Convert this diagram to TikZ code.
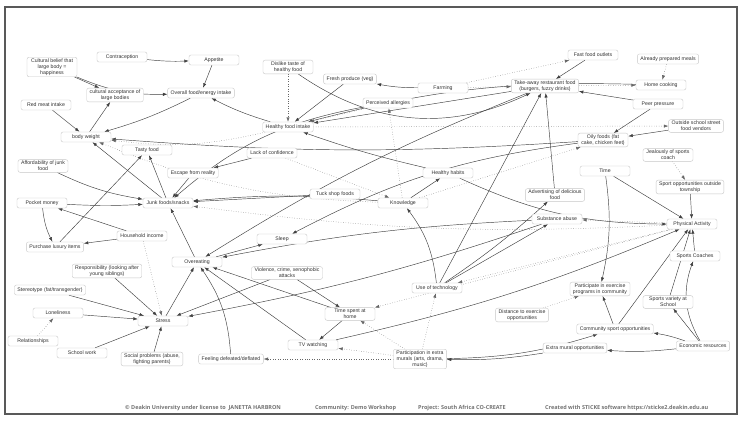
\documentclass[tikz,border=0pt]{standalone}
\usepackage{fontspec}
\setmainfont{Liberation Sans}
\newfontfamily\footfont{Open Sans}
\usetikzlibrary{arrows.meta,backgrounds}
\begin{document}
\begin{tikzpicture}[x=1pt,y=-1pt,
 box/.style={draw=black!22, rounded corners=2pt, fill=white, font=\fontsize{5.2}{5.8}\selectfont, text=black!80, align=center, minimum width=50pt, minimum height=10pt, inner xsep=3pt, inner ysep=1.5pt},
 arr/.style={draw=black!75, line width=0.45pt, -{Latex[length=4.5pt,width=3.2pt]}},
 dot/.style={arr, dotted, draw=black!60},
 foot/.style={font=\footfont\bfseries\fontsize{5.5}{6}\selectfont, text=black!55, anchor=west, inner sep=0pt}]
\useasboundingbox (0,0) rectangle (743,422);
\draw[black!65, line width=1.2pt] (5,7) rectangle (737,414);

\node[box] (contra) at (122,57) {Contraception};
\node[box] (appetite) at (214,60) {Appetite};
\node[box] (cultbelief) at (52,67) {Cultural belief that\\large body =\\happiness};
\node[box] (cultaccept) at (115,95) {cultural acceptance of\\large bodies};
\node[box] (overall) at (201,93) {Overall food/energy intake};
\node[box] (redmeat) at (46,105) {Red meat intake};
\node[box] (bodyweight) at (86,137) {body weight};
\node[box] (tasty) at (147,150) {Tasty food};
\node[box] (afford) at (43,166) {Affordability of junk\\food};
\node[box] (escape) at (193,173) {Escape from reality};
\node[box] (pocket) at (42,203) {Pocket money};
\node[box] (junk) at (168,203) {Junk foods/snacks};
\node[box] (household) at (142,236) {Household income};
\node[box] (purchaselux) at (55,247) {Purchase luxury items};
\node[box] (overeating) at (197,262) {Overeating};
\node[box] (responsibility) at (107,271) {Responsibility (looking after\\young siblings)};
\node[box] (stereotype) at (50,290) {Stereotype (fat/transgender)};
\node[box] (loneliness) at (58,313) {Loneliness};
\node[box] (relationships) at (33,341) {Relationships};
\node[box] (stress) at (163,321) {Stress};
\node[box] (schoolwork) at (82,353) {School work};
\node[box] (social) at (152,359) {Social problems (abuse,\\fighting parents)};
\node[box] (feeling) at (231,359) {Feeling defeated/deflated};
\node[box] (useoftech) at (437,288) {Use of technology};
\node[box] (timehome) at (350,314) {Time spent at\\home};
\node[box] (tvwatch) at (313,345) {TV watching};
\node[box] (participation) at (420,359) {Participation in extra\\murals (arts, drama,\\music)};
\node[box] (participate) at (600,289) {Participate in exercise\\programs in community};
\node[box] (sportsvariety) at (668,302) {Sports variety at\\School};
\node[box] (distance) at (522,315) {Distance to exercise\\opportunities};
\node[box] (commsport) at (615,329) {Community sport opportunities};
\node[box] (econ) at (703,346) {Economic resources};
\node[box] (extramural) at (575,348) {Extra mural opportunities};
\node[box] (time) at (605,171) {Time};
\node[box] (sportout) at (690,187) {Sport opportunities outside\\township};
\node[box] (advert) at (555,195) {Advertising of delicious\\food};
\node[box] (substance) at (557,219) {Substance abuse};
\node[box] (physact) at (692,224) {Physical Activity};
\node[box] (sportscoach) at (695,256) {Sports Coaches};
\node[box] (fastfood) at (593,55) {Fast food outlets};
\node[box] (already) at (668,59) {Already prepared meals};
\node[box] (takeaway) at (545,86) {Take-away restaurant food\\(burgers, fuzzy drinks)};
\node[box] (homecook) at (661,85) {Home cooking};
\node[box] (peer) at (658,104) {Peer pressure};
\node[box] (vendors) at (696,126) {Outside school street\\food vendors};
\node[box] (oily) at (603,140) {Oily foods (fat\\cake, chicken feet)};
\node[box] (jealous) at (668,155) {Jealously of sports\\coach};
\node[box] (dislike) at (288,67) {Dislike taste of\\healthy food};
\node[box] (fresh) at (350,79) {Fresh produce (veg)};
\node[box] (farming) at (443,88) {Farming};
\node[box] (perceived) at (388,103) {Perceived allergies};
\node[box] (healthyintake) at (288,127) {Healthy food intake};
\node[box] (lackconf) at (272,153) {Lack of confidence};
\node[box] (healthyhabits) at (448,173) {Healthy habits};
\node[box] (tuckshop) at (335,194) {Tuck shop foods};
\node[box] (knowledge) at (403,203) {Knowledge};
\node[box] (sleep) at (282,239) {Sleep};
\node[box] (violence) at (287,273) {Violence, crime, xenophobic\\attacks};

\begin{scope}[on background layer]
\fill[white] (0,0) rectangle (743,422);
\draw[arr] (contra) to[bend right=4] (appetite);
\draw[arr] (appetite) -- (overall);
\draw[arr] (cultbelief) -- (cultaccept);
\draw[arr] (cultbelief) to[bend right=12] (overall);
\draw[arr] (redmeat) -- (bodyweight);
\draw[arr] (bodyweight) -- (cultaccept);
\draw[arr] (overall) to[bend left=5] (bodyweight);
\draw[arr] (healthyintake) to[bend left=5] (overall);
\draw[arr] (junk) -- (bodyweight);
\draw[arr] (oily) to[bend left=4] (bodyweight);
\draw[arr] (dislike) to[bend right=30] (takeaway);
\draw[arr] (fresh) -- (healthyintake);
\draw[arr] (farming) to[bend left=5] (fresh);
\draw[arr] (fastfood) -- (takeaway);
\draw[arr] (peer) -- (takeaway);
\draw[arr] (peer) -- (oily);
\draw[arr] (vendors) -- (oily);
\draw[arr] (homecook) to[bend right=8] (healthyintake);
\draw[arr] (takeaway) -- (healthyintake);
\draw[arr] (healthyhabits) to[bend left=3] (healthyintake);
\draw[arr] (knowledge) -- (healthyhabits);
\draw[arr] (useoftech) to[bend right=15] (knowledge);
\draw[arr] (useoftech) -- (takeaway);
\draw[arr] (useoftech) to[bend right=4] (advert);
\draw[arr] (advert) -- (takeaway);
\draw[arr] (healthyhabits) to[bend right=12] (physact);
\draw[arr] (time) -- (physact);
\draw[arr] (time) to[bend left=10] (participate);
\draw[arr] (sportout) -- (physact);
\draw[arr] (sportscoach) -- (physact);
\draw[arr] (sportsvariety) -- (physact);
\draw[arr] (commsport) -- (physact);
\draw[arr] (commsport) -- (participate);
\draw[arr] (econ) to[bend right=5] (commsport);
\draw[arr] (econ) to[bend left=5] (extramural);
\draw[arr] (econ) -- (sportsvariety);
\draw[arr] (econ) to[bend left=25] (sportscoach);
\draw[arr] (extramural) to[bend left=5] (participation);
\draw[arr] (participation) to[bend right=8] (commsport);
\draw[arr] (tvwatch) to[bend right=5] (physact);
\draw[arr] (timehome) -- (tvwatch);
\draw[arr] (violence) -- (timehome);
\draw[arr] (violence) -- (stress);
\draw[arr] (timehome) -- (overeating);
\draw[arr] (tvwatch) -- (overeating);
\draw[arr] (feeling) to[bend right=15] (overeating);
\draw[arr] (stress) -- (overeating);
\draw[arr] (substance) to[bend right=4] (overeating);
\draw[arr] (substance) to[bend left=4] (stress);
\draw[arr] (useoftech) -- (substance);
\draw[arr] (oily) to[bend right=10] (sleep);
\draw[arr] (overeating) -- (sleep);
\draw[arr] (overeating) -- (junk);
\draw[arr] (takeaway) to[bend right=5] (overeating);
\draw[arr] (junk) -- (tasty);
\draw[arr] (purchaselux) -- (tasty);
\draw[arr] (afford) to[bend right=8] (junk);
\draw[arr] (escape) -- (junk);
\draw[arr] (lackconf) -- (escape);
\draw[arr] (pocket) to[bend right=3] (junk);
\draw[arr] (pocket) to[bend right=10] (purchaselux);
\draw[arr] (household) -- (pocket);
\draw[arr] (household) -- (purchaselux);
\draw[arr] (tuckshop) -- (junk);
\draw[arr] (knowledge) to[bend right=5] (junk);
\draw[arr] (perceived) to[bend right=15] (junk);
\draw[arr] (responsibility) -- (stress);
\draw[arr] (stereotype) -- (stress);
\draw[arr] (loneliness) -- (stress);
\draw[arr] (schoolwork) -- (stress);
\draw[arr] (social) -- (stress);

\draw[dot] (dislike) -- (healthyintake);
\draw[dot] (farming) -- (takeaway);
\draw[dot] (farming) -- (fastfood);
\draw[dot] (takeaway) -- (homecook);
\draw[dot] (already) -- (homecook);
\draw[dot] (jealous) -- (sportout);
\draw[dot] (knowledge) -- (perceived);
\draw[dot] (perceived) -- (healthyintake);
\draw[dot] (lackconf) -- (knowledge);
\draw[dot] (knowledge) to[bend left=10] (bodyweight);
\draw[dot] (healthyintake) to[bend left=10] (bodyweight);
\draw[dot] (healthyintake) -- (vendors);
\draw[dot] (knowledge) -- (oily);
\draw[dot] (physact) to[bend left=5] (junk);
\draw[dot] (physact) -- (substance);
\draw[dot] (physact) -- (useoftech);
\draw[dot] (physact) -- (timehome);
\draw[dot] (participation) -- (feeling);
\draw[dot] (participation) -- (tvwatch);
\draw[dot] (participation) -- (timehome);
\draw[dot] (participation) -- (useoftech);
\draw[dot] (household) -- (stress);
\draw[dot] (relationships) -- (loneliness);
\draw[dot] (distance) -- (participate);
\end{scope}

\node[foot] (f1) at (125,408) {© Deakin University under license to\ \ JANETTA HARBRON};
\node[foot] (f2) at (315,408) {Community: Demo Workshop};
\node[foot] (f3) at (418,408) {Project: South Africa CO-CREATE};
\node[foot] (f4) at (545,408) {Created with STICKE software https://sticke2.deakin.edu.au};
\end{tikzpicture}
\end{document}
